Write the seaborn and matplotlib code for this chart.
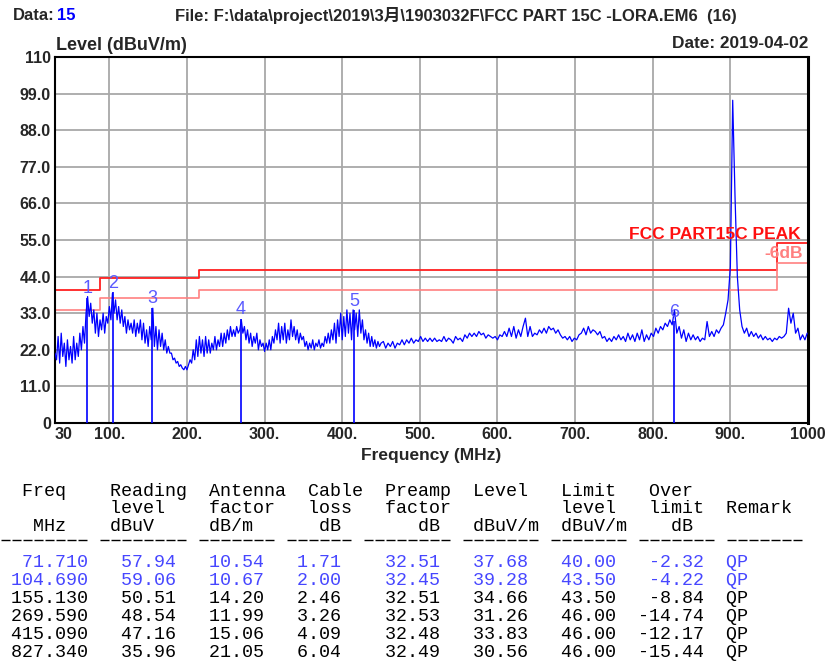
import numpy as np
import matplotlib
matplotlib.use('Agg')
import matplotlib.pyplot as plt
from matplotlib.lines import Line2D
from matplotlib.transforms import ScaledTranslation
import seaborn as sns

sns.set_style('white')
plt.rcParams['font.family'] = ['Liberation Sans', 'Noto Sans CJK SC', 'DejaVu Sans']

# scanned trace (dBuV/m): 30-450 MHz read every 2 MHz, 453-999 MHz every 3 MHz
trace_level_low = [
    21, 19, 26, 18, 27, 20, 24, 17, 25, 19, 23, 18, 26, 19, 24, 20, 27, 22, 29, 24,  # 30-68
    33, 38, 32, 36, 30, 34, 27, 33, 26, 31,                                          # 70-88
    28, 33, 27, 32, 30, 35, 31, 39, 33, 37,                                          # 90-108
    31, 35, 30, 34, 29, 32, 27, 31, 28, 30, 27, 31, 26, 30, 27, 31, 25, 30, 24, 28,  # 110-148
    23, 29, 25, 34.5, 23, 29, 22, 28, 23, 27, 22, 25, 21, 23, 21,                    # 150-178
    21, 19, 19.5, 18, 18.5, 17, 17.5, 16.5, 16, 17, 16, 17.5, 19, 18, 22,            # 180-208
    19, 25, 20, 26, 21, 25, 20, 26, 21, 25, 21, 24, 22, 26, 22, 25, 23, 27, 23, 27,  # 210-248
    24, 28, 25, 29, 26, 28, 26, 29, 27, 28, 31,                                      # 250-270
    27, 29, 25, 28, 24, 27, 23, 26, 24, 27, 22, 25, 23, 24,                          # 272-298
    21.5, 24, 22, 25, 22, 26,                                                        # 300-310
    24, 28, 25, 30, 24, 29, 25, 30, 24, 28, 25, 31, 26, 29, 25, 28, 24, 27, 25, 26,  # 312-350
    23, 24.5, 22, 24, 22.5, 25, 22, 24, 23, 25, 22.5, 24, 23, 26, 24, 27, 24,        # 352-384
    28, 25, 30, 24, 31, 26, 33, 25, 32, 26, 34, 27, 33, 25, 34, 28, 33, 26, 34, 27, 31, 25,  # 386-428
    28, 24, 27, 23, 26, 23, 25, 22.5, 24.5, 23, 24,                                  # 430-450
]
trace_level_high = [
    24.5, 22.5, 24, 23, 24.5, 22.5, 24, 23.5, 25,             # 453-477
    23.5, 25, 24, 25.5, 24, 25, 24.5, 26, 24.5, 25.5,         # 480-507
    24.5, 25.5, 24.5, 25.5, 24.5, 25, 24.5, 26, 24.5, 25.5,   # 510-537
    25, 24, 26, 25, 25.5, 24.5, 26.5, 25.5, 27, 26,           # 540-567
    27, 26, 27.5, 26.5, 27, 25.5, 26.5, 26, 25.5, 26,         # 570-597
    25, 26.5, 26, 27.5, 26, 28.5, 26, 29, 25.5, 28,           # 600-627
    26, 29, 31.5, 26, 29, 26, 27, 26.5, 28, 27,               # 630-657
    28.5, 27, 29, 28, 28.5, 27, 28, 26.5, 25.5, 26,           # 660-687
    25, 26, 24.5, 25.5, 25, 26.5, 27, 28.5, 26.5, 29,         # 690-717
    27, 28, 27.5, 26.5, 27.5, 25.5, 26, 24.5, 25.5, 24.5,     # 720-747
    26, 25, 26.5, 25, 26, 24.5, 27, 25, 26.5, 24.5,           # 750-777
    27, 25, 28, 24.5, 26.5, 25, 27, 26, 28.5, 27,             # 780-807
    29, 28, 30, 29, 31, 29.5, 34, 27, 29, 25.5,               # 810-837
    28, 24.5, 27, 25, 26.5, 25, 26, 24.5, 25.5, 25,           # 840-867
    30.5, 26, 27.5, 26, 28, 27, 28.5, 29.5, 33, 37,           # 870-897
    47, 97, 68, 44, 34, 29, 27, 28.5, 26, 27.5,               # 900-927
    26, 27, 25.5, 26.5, 25, 26, 25, 25.5, 24.5, 25.5,         # 930-957
    25, 26, 25.5, 26, 27, 34.5, 30, 33, 27, 28.5,             # 960-987
    25, 26.5, 25, 27,                                         # 990-999
]
trace_freq = np.concatenate([30 + 2 * np.arange(len(trace_level_low)),
                             453 + 3 * np.arange(len(trace_level_high))])
trace_level = trace_level_low + trace_level_high

# FCC Part 15C limit and the -6 dB line
limit_freq = [30, 88, 216, 960, 1000]
limit_peak = [40, 43.5, 46, 54, 54]
limit_6db = [34, 37.5, 40, 48, 48]

# final QP readings
mk_freq = [71.710, 104.690, 155.130, 269.590, 415.090, 827.340]
mk_reading = [57.94, 59.06, 50.51, 48.54, 47.16, 35.96]
mk_antenna = [10.54, 10.67, 14.20, 11.99, 15.06, 21.05]
mk_cable = [1.71, 2.00, 2.46, 3.26, 4.09, 6.04]
mk_preamp = [32.51, 32.45, 32.51, 32.53, 32.48, 32.49]
mk_level = [37.68, 39.28, 34.66, 31.26, 33.83, 30.56]
mk_limit = [40.00, 43.50, 43.50, 46.00, 46.00, 46.00]
mk_over = [-2.32, -4.22, -8.84, -14.74, -12.17, -15.44]
mk_remark = ['QP'] * 6

xticks = [30, 100, 200, 300, 400, 500, 600, 700, 800, 900, 1000]
xlabels = ['30', '100.', '200.', '300.', '400.', '500.', '600.', '700.', '800.', '900.', '1000']
yticks = [0, 11, 22, 33, 44, 55, 66, 77, 88, 99, 110]
ylabels = ['0', '11.0', '22.0', '33.0', '44.0', '55.0', '66.0', '77.0', '88.0', '99.0', '110']

W, H = 825, 666
fig = plt.figure(figsize=(W / 100, H / 100), dpi=100)
ax = fig.add_axes([55 / W, 1 - 423 / H, 753 / W, 366 / H])

sns.lineplot(x=trace_freq, y=trace_level, ax=ax, color='#0000ff', lw=0.9, zorder=3)
sns.lineplot(x=limit_freq, y=limit_peak, ax=ax, color='#ff2020', lw=1.3, drawstyle='steps-post', zorder=2)
sns.lineplot(x=limit_freq, y=limit_6db, ax=ax, color='#ff8080', lw=1.2, drawstyle='steps-post', zorder=2)
ax.vlines(mk_freq, 0, mk_level, color='#0000ff', lw=1.2, zorder=4)
for i, (f, lv) in enumerate(zip(mk_freq, mk_level)):
    ax.text(f, lv + 0.2, str(i + 1), color='#5a5aff', fontsize=13, ha='center', va='bottom', zorder=5)

ax.text(990, 56.8, 'FCC PART15C PEAK', color='#ff1010', fontsize=12.5, fontweight='bold',
        ha='right', va='center')
ax.text(993, 51, '-6dB', color='#ff8080', fontsize=12.5, fontweight='bold', ha='right', va='center')

ax.set_xlim(30, 1000)
ax.set_ylim(0, 110)
ax.set_xticks(xticks)
ax.set_xticklabels(xlabels, fontweight='bold', fontsize=11.5)
ax.set_yticks(yticks)
ax.set_yticklabels(ylabels, fontweight='bold', fontsize=11.5)
xt = ax.get_xticklabels()
xt[0].set_ha('left')
xt[-1].set_transform(xt[-1].get_transform() + ScaledTranslation(-0.07, 0, fig.dpi_scale_trans))
ax.tick_params(length=0, pad=3)
ax.grid(True, color='#a8a8a8', lw=1.3)
ax.set_axisbelow(True)
for s in ax.spines.values():
    s.set_color('black')
    s.set_linewidth(1.5)
ax.spines['right'].set_linewidth(2.2)
ax.set_xlabel('Frequency (MHz)', fontweight='bold', fontsize=12.5, labelpad=4)
ax.set_ylabel('')

# header texts
fig.text(13 / W, 1 - 16 / H, 'Data:', fontsize=12, fontweight='bold', va='center')
fig.text(57 / W, 1 - 16 / H, '15', fontsize=12, fontweight='bold', va='center', color='#0000ff')
fig.text(175 / W, 1 - 16 / H, 'File: F:\\data\\project\\2019\\3月\\1903032F\\FCC PART 15C -LORA.EM6  (16)',
         fontsize=12, fontweight='bold', va='center')
fig.text(56 / W, 1 - 46 / H, 'Level (dBuV/m)', fontsize=13, fontweight='bold', va='center')
fig.text(808 / W, 1 - 43 / H, 'Date: 2019-04-02', fontsize=12.4, fontweight='bold', va='center', ha='right')

# result table below the chart (monospace, 11 px per character)
mono = dict(family='Liberation Mono', fontsize=13.2)
header = [
    '  Freq    Reading  Antenna  Cable  Preamp  Level   Limit   Over',
    '          level    factor   loss   factor          level   limit  Remark',
    '   MHz    dBuV     dB/m      dB       dB   dBuV/m  dBuV/m    dB',
]
header_y = [496, 513, 531]
for txt, y in zip(header, header_y):
    fig.text(0 / W, 1 - y / H, txt, color='black', va='baseline', **mono)

# dashed rule under the header, one group per column
dash_groups = [(0, 8), (9, 17), (18, 25), (26, 32), (33, 41), (42, 49), (50, 57), (58, 65), (66, 73)]
for c0, c1 in dash_groups:
    fig.add_artist(Line2D([(c0 * 11 + 1) / W, (c1 * 11 - 1) / W], [1 - 540 / H] * 2,
                          transform=fig.transFigure, color='black', lw=1,
                          dashes=(6.5, 1.42)))

for i in range(len(mk_freq)):
    row = (f'{mk_freq[i]:8.3f}{mk_reading[i]:8.2f}{mk_antenna[i]:8.2f}{mk_cable[i]:7.2f}'
           f'{mk_preamp[i]:9.2f}{mk_level[i]:8.2f}{mk_limit[i]:8.2f}{mk_over[i]:8.2f}  {mk_remark[i]}')
    color = '#4646ff' if i < 2 else 'black'
    fig.text(0 / W, 1 - (567 + 18 * i) / H, row, color=color, va='baseline', **mono)

fig.savefig('out.png', dpi=100)
